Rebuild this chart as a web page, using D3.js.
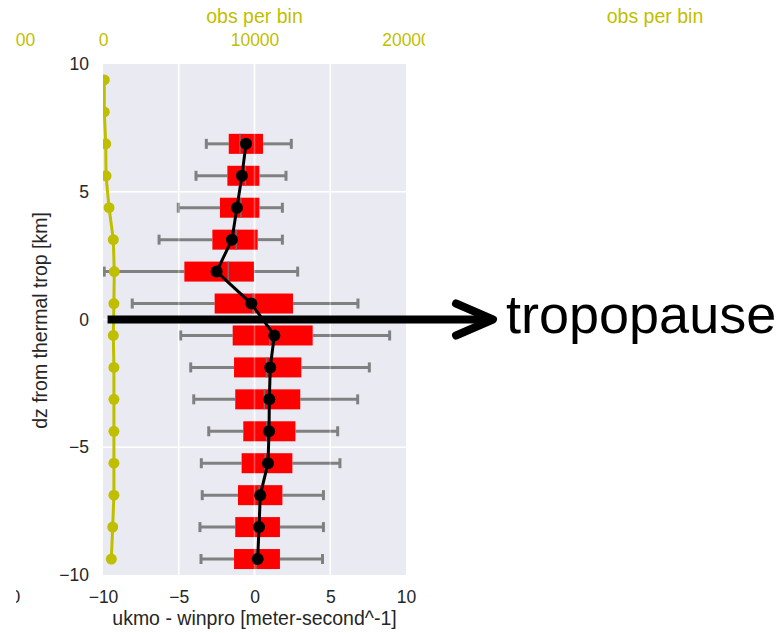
<!DOCTYPE html>
<html lang="en">
<head>
<meta charset="UTF-8">
<title>ukmo - winpro</title>
<script src="https://cdn.jsdelivr.net/npm/d3@7"></script>
<style>
    body { margin: 0; background: #fff; }
    text { font-family: "Liberation Sans", Arial, sans-serif; }
</style>
</head>
<body>
<div id="chart"></div>
<script>
// ---------------- data ----------------
// bin centres in km from the thermal tropopause
var levels = [-9.375, -8.125, -6.875, -5.625, -4.375, -3.125, -1.875, -0.625,
              0.625, 1.875, 3.125, 4.375, 5.625, 6.875, 8.125, 9.375];
// number of obs per bin (top axis)
var obsCount = [550, 640, 720, 720, 720, 720, 720, 680,
                720, 745, 680, 400, 200, 180, 85, 85];

// box statistics, only bins with data (lowest 14)
var boxLevels = [-9.375, -8.125, -6.875, -5.625, -4.375, -3.125, -1.875, -0.625,
                 0.625, 1.875, 3.125, 4.375, 5.625, 6.875];
var whiskLo = [-3.53, -3.60, -3.45, -3.51, -3.02, -4.01, -4.21, -4.87, -8.07, -9.92, -6.30, -5.03, -3.86, -3.18];
var q1      = [-1.35, -1.27, -1.09, -0.85, -0.74, -1.27, -1.35, -1.44, -2.63, -4.63, -2.78, -2.28, -1.79, -1.70];
var median  = [0.10, 0.20, 0.30, 0.70, 0.80, 0.65, 0.80, 1.00, -0.10, -1.73, -1.20, -0.90, -0.60, -0.96];
var q3      = [1.68, 1.68, 1.84, 2.50, 2.70, 3.02, 3.09, 3.84, 2.54, -0.03, 0.21, 0.32, 0.32, 0.56];
var whiskHi = [4.49, 4.55, 4.55, 5.64, 5.49, 6.81, 7.58, 8.92, 6.83, 2.85, 1.84, 1.84, 2.08, 2.43];
var meanVal = [0.21, 0.30, 0.38, 0.89, 0.96, 0.98, 1.04, 1.31, -0.21, -2.50, -1.49, -1.16, -0.83, -0.56];

var xTicks = [-10, -5, 0, 5, 10];
var yTicks = [-10, -5, 0, 5, 10];
var obsTicks = [0, 10000, 20000];

// ---------------- setup ----------------
var W = 784, H = 633;
var txt = "#262626", yel = "#bfbf00";
var tickFs = 17.5, labFs = 19.5;

var svg = d3.select("#chart").append("svg").attr("width", W).attr("height", H);

var x = d3.scaleLinear().domain([-10, 10]).range([103, 406]);
var y = d3.scaleLinear().domain([-10, 10]).range([575, 64]);
var xObs = d3.scaleLinear().domain([0, 20000]).range([103, 406]);
// neighbouring panel on the left (only its last labels peek in)
var xLeft = d3.scaleLinear().domain([-10, 10]).range([-293, 10]);
var xObsLeft = d3.scaleLinear().domain([0, 20000]).range([-293, 10.5]);

var defs = svg.append("defs");
defs.append("clipPath").attr("id", "plotclip").append("rect")
    .attr("x", x(-10)).attr("y", y(10)).attr("width", x(10) - x(-10)).attr("height", y(-10) - y(10));
defs.append("clipPath").attr("id", "figclip").append("rect")
    .attr("x", 16).attr("y", 0).attr("width", 425 - 16).attr("height", H);

// background
svg.append("rect")
    .attr("x", x(-10)).attr("y", y(10))
    .attr("width", x(10) - x(-10)).attr("height", y(-10) - y(10))
    .attr("fill", "#eaeaf2");

function grid(g, op) {
    g.selectAll(".gx").data(xTicks.slice(1, -1)).enter().append("line")
        .attr("x1", d => x(d)).attr("x2", d => x(d))
        .attr("y1", y(10)).attr("y2", y(-10));
    g.selectAll(".gy").data(yTicks.slice(1, -1)).enter().append("line")
        .attr("x1", x(-10)).attr("x2", x(10))
        .attr("y1", d => y(d)).attr("y2", d => y(d));
    g.selectAll("line").attr("stroke", "#fff").attr("stroke-width", 1.6).attr("opacity", op);
}
grid(svg.append("g"), 1);

var plot = svg.append("g").attr("clip-path", "url(#plotclip)");

// ---------------- boxes ----------------
var rows = boxLevels.map(function(l, i) {
    return { lev: l, lo: whiskLo[i], q1: q1[i], med: median[i], q3: q3[i], hi: whiskHi[i], mean: meanVal[i] };
});
var boxH = 20, capH = 10;

var wh = plot.append("g").attr("stroke", "#808080").attr("stroke-width", 3);
rows.forEach(function(r) {
    wh.append("line").attr("x1", x(r.lo)).attr("x2", x(r.q1)).attr("y1", y(r.lev)).attr("y2", y(r.lev));
    wh.append("line").attr("x1", x(r.q3)).attr("x2", x(r.hi)).attr("y1", y(r.lev)).attr("y2", y(r.lev));
    wh.append("line").attr("x1", x(r.lo)).attr("x2", x(r.lo)).attr("y1", y(r.lev) - capH / 2).attr("y2", y(r.lev) + capH / 2);
    wh.append("line").attr("x1", x(r.hi)).attr("x2", x(r.hi)).attr("y1", y(r.lev) - capH / 2).attr("y2", y(r.lev) + capH / 2);
});

plot.selectAll(".box").data(rows).enter().append("rect")
    .attr("x", d => x(d.q1)).attr("width", d => x(d.q3) - x(d.q1))
    .attr("y", d => y(d.lev) - boxH / 2).attr("height", boxH)
    .attr("fill", "#ff0000");

plot.selectAll(".med").data(rows).enter().append("line")
    .attr("x1", d => x(d.med)).attr("x2", d => x(d.med))
    .attr("y1", d => y(d.lev) - boxH / 2).attr("y2", d => y(d.lev) + boxH / 2)
    .attr("stroke", "#8c6060").attr("stroke-width", 1.5);

// grid shows faintly through the boxes
grid(plot.append("g"), 0.3);

// mean line + dots
plot.append("path").datum(rows)
    .attr("d", d3.line().x(d => x(d.mean)).y(d => y(d.lev)))
    .attr("fill", "none").attr("stroke", "#000").attr("stroke-width", 3);
plot.selectAll(".mean").data(rows).enter().append("circle")
    .attr("cx", d => x(d.mean)).attr("cy", d => y(d.lev)).attr("r", 6)
    .attr("fill", "#000");

// ---------------- obs per bin ----------------
var obs = levels.map((l, i) => ({ lev: l, n: obsCount[i] }));
plot.append("path").datum(obs)
    .attr("d", d3.line().x(d => xObs(d.n)).y(d => y(d.lev)))
    .attr("fill", "none").attr("stroke", yel).attr("stroke-width", 3);
plot.selectAll(".obs").data(obs).enter().append("circle")
    .attr("cx", d => xObs(d.n)).attr("cy", d => y(d.lev)).attr("r", 5.5)
    .attr("fill", yel);

// ---------------- axes ----------------
function style(g, col) {
    g.select(".domain").remove();
    g.selectAll("text").attr("font-size", tickFs).attr("fill", col)
        .attr("font-family", "'Liberation Sans', Arial, sans-serif");
}

var axes = svg.append("g").attr("clip-path", "url(#figclip)");

axes.append("g").attr("transform", "translate(0," + y(-10) + ")")
    .call(d3.axisBottom(x).tickValues(xTicks).tickSize(0).tickPadding(15.5))
    .call(g => style(g, txt));
axes.append("g").attr("transform", "translate(0," + y(-10) + ")")
    .call(d3.axisBottom(xLeft).tickValues([10]).tickSize(0).tickPadding(15.5))
    .call(g => style(g, txt));

axes.append("g").attr("transform", "translate(" + x(-10) + ",0)")
    .call(d3.axisLeft(y).tickValues(yTicks).tickSize(0).tickPadding(14))
    .call(g => style(g, txt));

axes.append("g").attr("transform", "translate(0," + y(10) + ")")
    .call(d3.axisTop(xObs).tickValues(obsTicks).tickFormat(d3.format("d")).tickSize(0).tickPadding(18))
    .call(g => style(g, yel));
axes.append("g").attr("transform", "translate(0," + y(10) + ")")
    .call(d3.axisTop(xObsLeft).tickValues([20000]).tickFormat(d3.format("d")).tickSize(0).tickPadding(18))
    .call(g => style(g, yel));

// axis titles
svg.append("text").attr("x", (x(-10) + x(10)) / 2).attr("y", 23)
    .attr("text-anchor", "middle").attr("font-size", labFs).attr("fill", yel)
    .text("obs per bin");
svg.append("text").attr("x", 655).attr("y", 23)
    .attr("text-anchor", "middle").attr("font-size", labFs).attr("fill", yel)
    .text("obs per bin");
svg.append("text").attr("x", (x(-10) + x(10)) / 2).attr("y", 625)
    .attr("text-anchor", "middle").attr("font-size", labFs).attr("fill", txt)
    .text("ukmo - winpro [meter-second^-1]");
svg.append("text")
    .attr("transform", "translate(47," + (y(0) + 1) + ") rotate(-90)")
    .attr("text-anchor", "middle").attr("font-size", labFs).attr("fill", txt)
    .text("dz from thermal trop [km]");

// ---------------- tropopause arrow ----------------
var ay = y(0);
svg.append("line")
    .attr("x1", x(-9.7)).attr("x2", 492).attr("y1", ay).attr("y2", ay)
    .attr("stroke", "#000").attr("stroke-width", 8);
svg.append("path")
    .attr("d", "M456," + (ay - 16) + " L493," + ay + " L456," + (ay + 16))
    .attr("fill", "none").attr("stroke", "#000").attr("stroke-width", 8)
    .attr("stroke-linecap", "round").attr("stroke-linejoin", "round");
svg.append("text").attr("x", 506).attr("y", 333)
    .attr("font-size", 54).attr("fill", "#000")
    .text("tropopause");
</script>
</body>
</html>
